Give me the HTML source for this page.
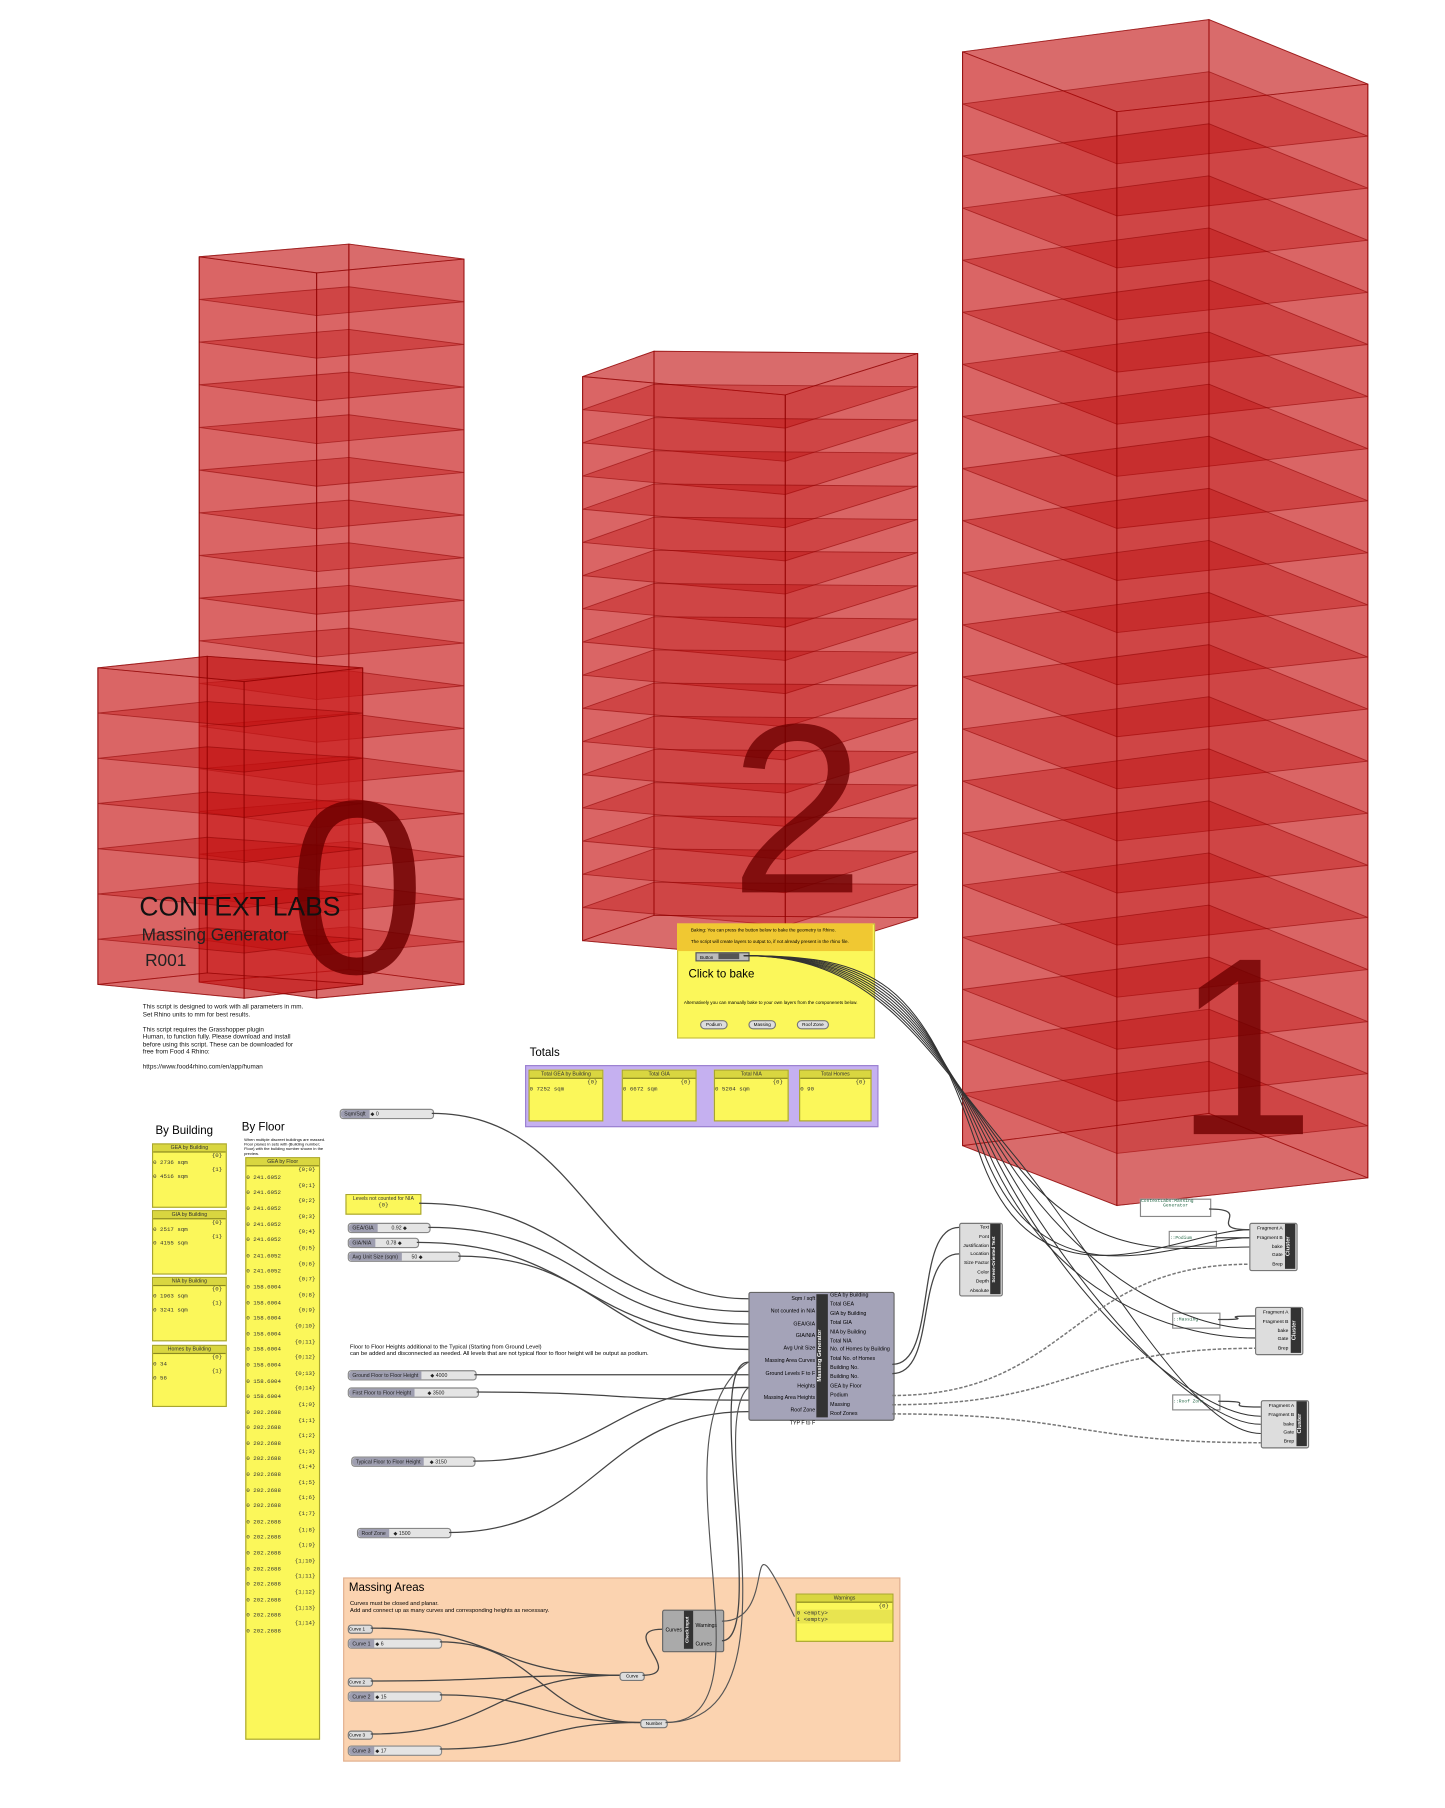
<!DOCTYPE html>
<html><head><meta charset="utf-8">
<style>
html,body{margin:0;padding:0;background:#fff;}
#root{position:relative;width:1255px;height:1570px;transform:scale(1.1514);transform-origin:0 0;font-family:"Liberation Sans",sans-serif;overflow:hidden}
.abs{position:absolute}
.yp{position:absolute;background:#fbf75a;border:1px solid #a8a530;font-family:"Liberation Mono",monospace;font-size:5px;color:#333}
.yp .h{background:#d9d640;border-bottom:1px solid #8a8820;text-align:center;font-family:"Liberation Sans",sans-serif;font-size:4.5px;height:6px;line-height:6px}
.sl{position:absolute;height:7px;background:#e4e4e4;border:1px solid #888;border-radius:3px;font-size:4.5px;line-height:7px;color:#222}
.sl b{display:inline-block;background:#9e9eb0;height:7px;padding:0 3px;font-weight:normal;border-radius:3px 0 0 3px}
.comp{position:absolute;background:#a4a3b8;border:1px solid #666;border-radius:2px;font-size:4.8px;color:#222}
.gray{position:absolute;background:#ddd;border:1px solid #777;border-radius:2px;font-size:4.8px}
.dark{position:absolute;background:#333;color:#fff;font-size:5px;font-weight:bold;writing-mode:vertical-rl;transform:rotate(180deg);text-align:center}
</style></head><body>
<div id="root">
<svg id="geo" class="abs" style="left:0;top:0" width="1255" height="1570" viewBox="0 0 1255 1570"></svg>

<div class="abs" style="left:121px;top:774px;font-size:23px;color:#111">CONTEXT LABS</div>
<div class="abs" style="left:123px;top:804px;font-size:15px;color:#222">Massing Generator</div>
<div class="abs" style="left:126px;top:826px;font-size:15px;color:#222">R001</div>
<div class="abs" style="left:124px;top:872px;font-size:5.5px;line-height:6.5px;color:#111;width:170px">This script is designed to work with all parameters in mm.<br>Set Rhino units to mm for best results.<br><br>This script requires the Grasshopper plugin<br>Human, to function fully. Please download and install<br>before using this script. These can be downloaded for<br>free from Food 4 Rhino:<br><br>https://www.food4rhino.com/en/app/human</div>

<div class="abs" style="left:588px;top:802px;width:170px;height:98px;background:#fbf75a;border:1px solid #c8c040"></div>
<div class="abs" style="left:588px;top:802px;width:170px;height:24px;background:#f0c832"></div>
<div class="abs" style="left:600px;top:805px;font-size:4px">Baking: You can press the button below to bake the geometry to Rhino.</div>
<div class="abs" style="left:600px;top:815px;font-size:4px">The script will create layers to output to, if not already present in the rhino file.</div>
<div class="abs" style="left:604px;top:827px;width:42px;height:6px;background:#bbb;border:1px solid #555;font-size:4px;line-height:6px;padding-left:3px">Button<span style="display:inline-block;width:18px;height:5px;background:#555;margin-left:4px"></span></div>
<div class="abs" style="left:598px;top:841px;font-size:10px">Click to bake</div>
<div class="abs" style="left:594px;top:868px;font-size:4px">Alternatively you can manually bake to your own layers from the componenets below.</div>
<div class="gray" style="left:608px;top:886px;width:22px;height:6px;font-size:4px;text-align:center;border-radius:4px">Podium</div>
<div class="gray" style="left:650px;top:886px;width:22px;height:6px;font-size:4px;text-align:center;border-radius:4px">Massing</div>
<div class="gray" style="left:692px;top:886px;width:26px;height:6px;font-size:4px;text-align:center;border-radius:4px">Roof Zone</div>

<div class="abs" style="left:460px;top:909px;font-size:10px">Totals</div>
<div class="abs" style="left:456px;top:925px;width:305px;height:52px;background:#c5b0f0;border:1px solid #9a80d0"></div>
<div class="yp" style="left:459px;top:929px;width:63px;height:43px"><div class="h">Total GEA by Building</div><div style="text-align:right;padding-right:4px">{0}</div>0 7252 sqm</div>
<div class="yp" style="left:540px;top:929px;width:63px;height:43px"><div class="h">Total GIA</div><div style="text-align:right;padding-right:4px">{0}</div>0 6672 sqm</div>
<div class="yp" style="left:620px;top:929px;width:63px;height:43px"><div class="h">Total NIA</div><div style="text-align:right;padding-right:4px">{0}</div>0 5204 sqm</div>
<div class="yp" style="left:694px;top:929px;width:61px;height:43px"><div class="h">Total Homes</div><div style="text-align:right;padding-right:4px">{0}</div>0 90</div>

<div class="abs" style="left:135px;top:977px;font-size:10px">By Building</div>
<div class="yp" style="left:132px;top:993px;width:63px;height:54px"><div class="h">GEA by Building</div><div style="text-align:right;padding-right:3px">{0}</div>0 2736 sqm<div style="text-align:right;padding-right:3px">{1}</div>0 4516 sqm</div>
<div class="yp" style="left:132px;top:1051px;width:63px;height:54px"><div class="h">GIA by Building</div><div style="text-align:right;padding-right:3px">{0}</div>0 2517 sqm<div style="text-align:right;padding-right:3px">{1}</div>0 4155 sqm</div>
<div class="yp" style="left:132px;top:1109px;width:63px;height:54px"><div class="h">NIA by Building</div><div style="text-align:right;padding-right:3px">{0}</div>0 1963 sqm<div style="text-align:right;padding-right:3px">{1}</div>0 3241 sqm</div>
<div class="yp" style="left:132px;top:1168px;width:63px;height:52px"><div class="h">Homes by Building</div><div style="text-align:right;padding-right:3px">{0}</div>0 34<div style="text-align:right;padding-right:3px">{1}</div>0 56</div>

<div class="abs" style="left:210px;top:974px;font-size:10px">By Floor</div>
<div class="abs" style="left:212px;top:988px;font-size:3.5px;width:75px">When multiple discreet buildings are massed. Floor planes in sets with {Building number; Floor} with the building number shown in the preview.</div>
<div class="yp" id="floor" style="left:213px;top:1005px;width:63px;height:504px;line-height:6.8px"><div class="h">GEA by Floor</div></div>

<div class="sl" style="left:295px;top:963px;width:80px"><b>Sqm/Sqft</b> ◆ 0</div>
<div class="yp" style="left:300px;top:1037px;width:64px;height:16px"><div class="h" style="background:#fbf75a;border:0">Levels not counted for NIA</div><div style="text-align:center">{0}</div></div>
<div class="sl" style="left:302px;top:1062px;width:70px"><b>GEA/GIA</b>&nbsp;&nbsp;&nbsp;&nbsp;&nbsp;&nbsp;&nbsp;&nbsp;&nbsp;&nbsp;0.92 ◆</div>
<div class="sl" style="left:302px;top:1075px;width:60px"><b>GIA/NIA</b>&nbsp;&nbsp;&nbsp;&nbsp;&nbsp;&nbsp;&nbsp;&nbsp;0.78 ◆</div>
<div class="sl" style="left:302px;top:1087px;width:96px"><b>Avg Unit Size (sqm)</b>&nbsp;&nbsp;&nbsp;&nbsp;&nbsp;&nbsp;&nbsp;50 ◆</div>
<div class="abs" style="left:304px;top:1167px;font-size:5px;line-height:6px">Floor to Floor Heights additional to the Typical (Starting from Ground Level)<br>can be added and disconnected as needed. All levels that are not typical floor to floor height will be output as podium.</div>
<div class="sl" style="left:302px;top:1190px;width:110px"><b>Ground Floor to Floor Height</b>&nbsp;&nbsp;&nbsp;&nbsp;&nbsp;&nbsp;◆ 4000</div>
<div class="sl" style="left:302px;top:1205px;width:112px"><b>First Floor to Floor Height</b>&nbsp;&nbsp;&nbsp;&nbsp;&nbsp;&nbsp;&nbsp;&nbsp;&nbsp;◆ 3500</div>
<div class="sl" style="left:305px;top:1265px;width:106px"><b>Typical Floor to Floor Height</b>&nbsp;&nbsp;&nbsp;&nbsp;◆ 3150</div>
<div class="sl" style="left:310px;top:1327px;width:80px"><b>Roof Zone</b>&nbsp;&nbsp;&nbsp;◆ 1500</div>

<div class="comp" style="left:650px;top:1122px;width:125px;height:110px"></div>
<div class="dark" style="left:709px;top:1124px;width:10px;height:107px">Massing Generator</div>
<div class="abs" style="left:650px;top:1123px;width:58px;text-align:right;font-size:4.6px;line-height:10.8px">Sqm / sqft<br>Not counted in NIA<br>GEA/GIA<br>GIA/NIA<br>Avg Unit Size<br>Massing Area Curves<br>Ground Levels F to F Heights<br>Massing Area Heights<br>Roof Zone<br>TYP F to F</div>
<div class="abs" style="left:721px;top:1121px;font-size:4.6px;line-height:7.9px">GEA by Building<br>Total GEA<br>GIA by Building<br>Total GIA<br>NIA by Building<br>Total NIA<br>No. of Homes by Building<br>Total No. of Homes<br>Building No.<br>Building No.<br>GEA by Floor<br>Podium<br>Massing<br>Roof Zones</div>

<div class="gray" style="left:833px;top:1062px;width:36px;height:62px"></div>
<div class="dark" style="left:860px;top:1063px;width:9px;height:61px;font-size:4px">Screen-Oriented Text</div>
<div class="abs" style="left:833px;top:1062px;width:26px;text-align:right;font-size:4.3px;line-height:7.8px">Text<br>Font<br>Justification<br>Location<br>Size Factor<br>Color<br>Depth<br>Absolute</div>

<div class="abs" style="left:990px;top:1041px;width:60px;height:14px;background:#fff;border:1px solid #888;font-family:'Liberation Mono',monospace;font-size:4px;color:#264">ContextLabs:Massing<br>&nbsp;&nbsp;&nbsp;&nbsp;&nbsp;&nbsp;&nbsp;&nbsp;Generator</div>
<div class="abs" style="left:1015px;top:1069px;width:40px;height:12px;background:#fff;border:1px solid #888;font-family:'Liberation Mono',monospace;font-size:4px;color:#264;line-height:12px">::Podium</div>
<div class="abs" style="left:1018px;top:1140px;width:40px;height:12px;background:#fff;border:1px solid #888;font-family:'Liberation Mono',monospace;font-size:4px;color:#264;line-height:12px">::Massing</div>
<div class="abs" style="left:1018px;top:1211px;width:40px;height:12px;background:#fff;border:1px solid #888;font-family:'Liberation Mono',monospace;font-size:4px;color:#264;line-height:12px">::Roof Zone</div>

<div id="clusters"></div>

<div class="abs" style="left:298px;top:1370px;width:482px;height:158px;background:#fbd3b0;border:1px solid #e0b090"></div>
<div class="abs" style="left:303px;top:1374px;font-size:10px">Massing Areas</div>
<div class="abs" style="left:304px;top:1390px;font-size:5px;line-height:6px">Curves must be closed and planar.<br>Add and connect up as many curves and corresponding heights as necessary.</div>
<div class="gray" style="left:302px;top:1411px;width:20px;height:6px;font-size:4px;border-radius:3px">Curve 1</div>
<div class="sl" style="left:302px;top:1423px;width:80px"><b>Curve 1</b> ◆ 6</div>
<div class="gray" style="left:302px;top:1457px;width:20px;height:6px;font-size:4px;border-radius:3px">Curve 2</div>
<div class="sl" style="left:302px;top:1469px;width:80px"><b>Curve 2</b> ◆ 15</div>
<div class="gray" style="left:302px;top:1503px;width:20px;height:6px;font-size:4px;border-radius:3px">Curve 3</div>
<div class="sl" style="left:302px;top:1516px;width:80px"><b>Curve 3</b> ◆ 17</div>
<div class="gray" style="left:538px;top:1452px;width:20px;height:6px;font-size:4px;border-radius:3px;text-align:center">Curve</div>
<div class="gray" style="left:556px;top:1493px;width:22px;height:6px;font-size:4px;border-radius:3px;text-align:center">Number</div>
<div class="comp" style="left:575px;top:1398px;width:52px;height:35px;background:#aaa"></div>
<div class="dark" style="left:594px;top:1399px;width:8px;height:33px;font-size:4px">Check Input</div>
<div class="abs" style="left:578px;top:1413px;font-size:4.5px">Curves</div>
<div class="abs" style="left:604px;top:1404px;font-size:4.5px;line-height:16px">Warnings<br>Curves</div>
<div class="yp" style="left:691px;top:1384px;width:83px;height:40px"><div class="h">Warnings</div><div style="text-align:right;padding-right:3px">{0}</div><div style="background:#e8e450">0 &lt;empty&gt;<br>1 &lt;empty&gt;</div></div>

<svg id="wires" class="abs" style="left:0;top:0;pointer-events:none" width="1255" height="1570" viewBox="0 0 1255 1570"></svg>
</div>

<script>
const NS="http://www.w3.org/2000/svg";
let svg=document.getElementById('geo');
function el(t,a){const e=document.createElementNS(NS,t);for(const k in a)e.setAttribute(k,a[k]);svg.appendChild(e);return e;}
function poly(pts,fill,stroke){return el('polygon',{points:pts.map(p=>p.join(',')).join(' '),fill:fill,stroke:stroke||'rgba(140,0,0,0.6)','stroke-width':0.8});}
function tower(top,H,N){
 const bot=top.map(p=>[p[0],p[1]+H]);
 for(let i=0;i<4;i++){const j=(i+1)%4;poly([top[i],top[j],bot[j],bot[i]],'rgba(200,25,25,0.42)');}
 for(let k=0;k<=N;k++){
  const dy=k*H/N;
  poly(top.map(p=>[p[0],p[1]+dy]),'rgba(185,0,0,0.32)','rgba(140,0,0,0.55)');
 }
 for(let i=0;i<4;i++)el('line',{x1:top[i][0],y1:top[i][1],x2:bot[i][0],y2:bot[i][1],stroke:'rgba(140,0,0,0.6)','stroke-width':0.9});
}
tower([[173,223],[303,212],[403,225],[275,237]],630,17);
tower([[85,580],[180,570],[315,580],[212,592]],275,7);
el('text',{x:250,y:845,'font-size':215,'font-family':'Liberation Sans, sans-serif',fill:'rgba(110,0,0,0.85)'}).textContent='0';
tower([[506,327],[568,305],[797,307],[682,343]],490,17);
el('text',{x:634,y:775,'font-size':210,'font-family':'Liberation Sans, sans-serif',fill:'rgba(110,0,0,0.8)'}).textContent='2';
tower([[836,45],[1050,17],[1188,73],[970,97]],950,21);
el('text',{x:1020,y:985,'font-size':220,'font-family':'Liberation Sans, sans-serif',fill:'rgba(110,0,0,0.8)'}).textContent='1';

const fl=document.getElementById('floor');let h='';
const paths=[];for(let i=0;i<=14;i++)paths.push('{0;'+i+'}');for(let i=0;i<=14;i++)paths.push('{1;'+i+'}');
const vals=[];for(let i=0;i<7;i++)vals.push('241.6052');for(let i=0;i<8;i++)vals.push('158.6004');for(let i=0;i<15;i++)vals.push('202.2688');
for(let i=0;i<30;i++){h+='<div style="text-align:right;padding-right:3px">'+(paths[i]||'')+'</div><div>0 '+vals[i]+'</div>';}
fl.innerHTML+=h;

const cl=document.getElementById('clusters');
[[1085,1062],[1090,1135],[1095,1216]].forEach(([x,y])=>{
 cl.innerHTML+=`<div class="gray" style="left:${x}px;top:${y}px;width:40px;height:40px"></div>
 <div class="dark" style="left:${x+31}px;top:${y+1}px;width:9px;height:39px">Cluster</div>
 <div class="abs" style="left:${x}px;top:${y+1}px;width:29px;text-align:right;font-size:4.3px;line-height:7.8px">Fragment A<br>Fragment B<br>bake<br>Gate<br>Brep</div>`;
});

svg=document.getElementById('wires');
function wire(x1,y1,x2,y2,dash,w){const dx=Math.max(40,(x2-x1)*0.5);
 el('path',{d:`M${x1},${y1} C${x1+dx},${y1} ${x2-dx},${y2} ${x2},${y2}`,fill:'none',stroke:dash?'#777':'#444','stroke-width':w||1.1,'stroke-dasharray':dash?'3,1.5':''});}
const gi=[1128,1139,1150,1161,1172,1183,1194,1205,1216,1226];
wire(375,967,650,gi[0]);wire(364,1045,650,gi[1]);wire(372,1066,650,gi[2]);wire(362,1079,650,gi[3]);wire(398,1091,650,gi[4]);
wire(412,1194,650,gi[6]);wire(414,1209,650,gi[8]);wire(411,1269,650,gi[7]);wire(390,1331,650,gi[9]);
wire(627,1425,650,gi[5]);
el('path',{d:'M627,1408 C680,1408 640,1300 690,1404',fill:'none',stroke:'#555','stroke-width':1});
wire(322,1414,538,1455);wire(382,1426,556,1496);wire(322,1460,538,1455);wire(382,1472,556,1496);wire(322,1506,538,1455);wire(382,1519,556,1496);
wire(558,1455,575,1415);
el('path',{d:'M578,1496 C680,1496 560,1240 650,1183',fill:'none',stroke:'#555','stroke-width':1});
el('path',{d:'M578,1496 C700,1496 610,1240 650,1205',fill:'none',stroke:'#555','stroke-width':1});
wire(775,1185,833,1066);wire(775,1193,833,1089);
[[1085,1068],[1085,1075],[1090,1162],[1095,1230],[1095,1237],[1090,1154],[1085,1083],[1095,1245]].forEach(([x,y],i)=>{
 el('path',{d:`M646,830 C760,830 800,${850+i*8} ${850+i*4},1000 S${x-60},${y} ${x},${y}`,fill:'none',stroke:'#333','stroke-width':0.9});
});
wire(1050,1050,1085,1068);wire(1055,1075,1085,1075);wire(1058,1146,1090,1143);wire(1058,1217,1095,1222);
wire(775,1212,1085,1098,true,1.3);wire(775,1220,1090,1171,true,1.3);wire(775,1228,1095,1253,true,1.3);
</script>
</body></html>
